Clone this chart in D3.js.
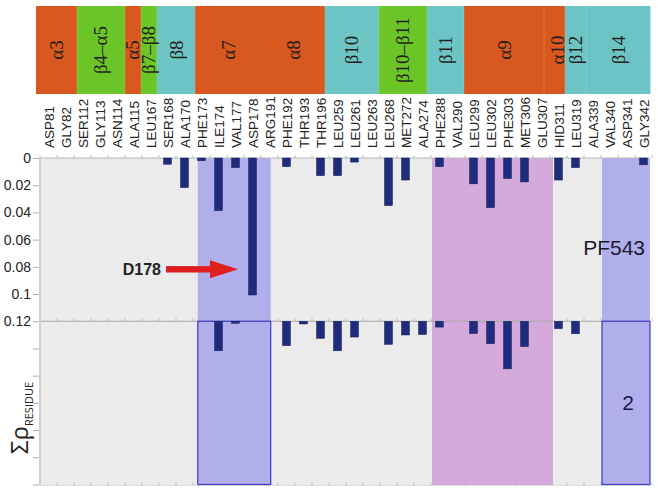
<!DOCTYPE html>
<html><head><meta charset="utf-8">
<script src="https://cdn.jsdelivr.net/npm/d3@7"></script>
<style>body{margin:0;background:#fff}svg{display:block}</style>
</head><body><svg id="c" width="658" height="493"></svg>
<script>
const residues = ["ASP81","GLY82","SER112","GLY113","ASN114","ALA115","LEU167","SER168","ALA170","PHE173","ILE174","VAL177","ASP178","ARG191","PHE192","THR193","THR196","LEU259","LEU261","LEU263","LEU268","MET272","ALA274","PHE288","VAL290","LEU299","LEU302","PHE303","MET306","GLU307","HID311","LEU319","ALA339","VAL340","ASP341","GLY342"];
// upper panel (PF543) values
const upperValues = [0,0,0,0,0,0,0,0.0046,0.0218,0.002,0.0387,0.0071,0.1007,0,0.0064,0,0.013,0.013,0.003,0,0.035,0.0162,0,0.0064,0,0.019,0.0365,0.0152,0.0176,0,0.0162,0.0071,0,0,0,0.005];
// lower panel (compound 2) values, measured downward from the 0.12 line
const lowerValues = [0,0,0,0,0,0,0,0,0,0,0.0217,0.0015,0,0,0.018,0.002,0.0126,0.0217,0.0116,0,0.017,0.0101,0.0097,0.0043,0,0.009,0.0165,0.035,0.0187,0,0.0055,0.0092,0,0,0,0];
const yTicks = [0,0.02,0.04,0.06,0.08,0.1,0.12,0.14,0.16,0.18,0.2,0.22,0.24];
const yTickLabels = ["0","0.02","0.04","0.06","0.08","0.1","0.12","","","","","",""];
// secondary structure band (edges in residue-index units)
const bandNames = ["α3","β4–α5","α5","β7–β8","β8","α7","α8","β10","β10–β11","β11","α9","α10","β12","β14"];
const bandTypes = ["a","l","a","l","b","a","a","b","l","b","a","a","b","b"];
const bandEdges = [-0.235,2.176,5.0,5.94,6.88,9.12,13.06,16.76,19.94,22.76,24.94,29.65,30.88,32.12,35.88];
// highlighted residue regions (index units)
const regionStart = [9.28,23.06,33.06];
const regionEnd = [13.57,30.18,35.88];
const regionKind = ["blue","pink","blue"];

const svg = d3.select("#c");
const L=40, R=652, T=158, B=484.5;
const x = d3.scaleBand().domain(residues).range([L,R]).padding(0);
const xi = d3.scaleLinear().domain([0,residues.length]).range([L,R]);
const y = d3.scaleLinear().domain([0,0.24]).range([T,B]);
const bandColor = {a:"#d8581f", l:"#6cc526", b:"#6cc4c4"};
const regFill = {blue:"#b1aeec", pink:"#d4aadc"};

// plot background
svg.append("rect").attr("x",L).attr("y",T).attr("width",650-L).attr("height",B-T+1).attr("fill","#ebebeb");

// upper regions
svg.selectAll(".ru").data(regionStart).enter().append("rect")
  .attr("x",(d)=>xi(d)).attr("y",T)
  .attr("width",(d,i)=>xi(regionEnd[i])-xi(d)).attr("height",y(0.12)-T)
  .attr("fill",(d,i)=>regFill[regionKind[i]]);
// lower regions
svg.selectAll(".rl").data(regionStart).enter().append("rect")
  .attr("x",(d)=>xi(d)).attr("y",y(0.12))
  .attr("width",(d,i)=>xi(regionEnd[i])-xi(d)).attr("height",B-y(0.12)+1)
  .attr("fill",(d,i)=>regFill[regionKind[i]]);

// axis lines
const g = svg.append("g");
g.append("line").attr("x1",L).attr("x2",650).attr("y1",T).attr("y2",T).attr("stroke","#b8b8b8");
g.append("line").attr("x1",L).attr("x2",650).attr("y1",y(0.12)).attr("y2",y(0.12)).attr("stroke","#a8a8a8");
g.append("line").attr("x1",L).attr("x2",650).attr("y1",B+1).attr("y2",B+1).attr("stroke","#e0e0e0");
// category ticks (upward)
[T, y(0.12), B+1].forEach(yy=>{
  g.selectAll(null).data(d3.range(residues.length+1)).enter().append("line")
   .attr("x1",d=>xi(d)).attr("x2",d=>xi(d)).attr("y1",yy).attr("y2",yy-3)
   .attr("stroke","#b0b0b0").attr("stroke-width",0.8);
});
// left axis
g.append("rect").attr("x",L-1).attr("y",T).attr("width",2).attr("height",B-T+1).attr("fill","#cfcfcf");
const yAxis = d3.axisLeft(y).tickValues(yTicks).tickSize(6).tickFormat((d,i)=>yTickLabels[i]);
const ya = svg.append("g").attr("transform",`translate(${L-1},0)`).call(yAxis);
ya.select(".domain").remove();
ya.selectAll(".tick line").attr("stroke","#b0b0b0");
ya.selectAll(".tick text").attr("font-family","Liberation Sans, Arial, sans-serif").attr("font-size",14).attr("fill","#222").attr("x",-8);

// lower region borders (blue)
const blueIdx = regionKind.map((k,i)=>k==="blue"?i:-1).filter(i=>i>=0);
svg.selectAll(".rb").data(blueIdx).enter().append("rect")
  .attr("x",i=>xi(regionStart[i])).attr("y",y(0.12))
  .attr("width",i=>xi(regionEnd[i])-xi(regionStart[i])).attr("height",B-y(0.12))
  .attr("fill","none").attr("stroke","#3d3acb").attr("stroke-width",1.2);

// bars
const bw = x.bandwidth()*0.47;
svg.selectAll(".bu").data(residues.map((r,i)=>({r,v:upperValues[i]})).filter(d=>d.v>0)).enter().append("rect")
  .attr("x",d=>x(d.r)+x.bandwidth()/2-bw/2).attr("y",y(0)).attr("width",bw).attr("height",d=>y(d.v)-y(0))
  .attr("fill","#1f2b7b").attr("stroke","#18225f").attr("stroke-width",0.5);
svg.selectAll(".bl").data(residues.map((r,i)=>({r,v:lowerValues[i]})).filter(d=>d.v>0)).enter().append("rect")
  .attr("x",d=>x(d.r)+x.bandwidth()/2-bw/2).attr("y",y(0.12)).attr("width",bw).attr("height",d=>y(0.12+d.v)-y(0.12))
  .attr("fill","#1f2b7b").attr("stroke","#18225f").attr("stroke-width",0.5);

// residue labels
svg.selectAll(".reslab").data(residues).enter().append("text")
  .attr("transform",d=>`translate(${x(d)+x.bandwidth()/2+0.5},148) rotate(-90)`)
  .attr("text-anchor","start").attr("dominant-baseline","central")
  .attr("font-family","Liberation Sans, Arial, sans-serif").attr("font-size",13.5).attr("fill","#222")
  .text(d=>d);

// secondary structure bands
const bt=6, bb=94;
svg.selectAll(".band").data(bandNames).enter().append("rect")
  .attr("x",(d,i)=>xi(bandEdges[i])).attr("y",bt)
  .attr("width",(d,i)=>xi(bandEdges[i+1])-xi(bandEdges[i])+0.5).attr("height",bb-bt)
  .attr("fill",(d,i)=>bandColor[bandTypes[i]]);
svg.selectAll(".bsep").data(bandEdges.slice(1,-1).filter((d,i)=>bandNames[i]!=="α7")).enter().append("line")
  .attr("x1",d=>xi(d)).attr("x2",d=>xi(d)).attr("y1",bt).attr("y2",bb)
  .attr("stroke","#ffffff").attr("stroke-opacity",0.15);
svg.selectAll(".blab").data(bandNames).enter().append("text")
  .attr("transform",(d,i)=>`translate(${(xi(bandEdges[i])+xi(bandEdges[i+1]))/2+(d==="α10"?3:0)},${(bt+bb)/2}) rotate(-90)`)
  .attr("text-anchor","middle").attr("dominant-baseline","central")
  .attr("font-family","Liberation Serif, Times New Roman, serif").attr("font-size",19).attr("fill","#231f1c")
  .text(d=>d);

// annotations
svg.append("text").attr("x",161).attr("y",275).attr("text-anchor","end")
  .attr("font-family","Liberation Sans, Arial, sans-serif").attr("font-weight","bold").attr("font-size",16).attr("fill","#222").text("D178");
const ay=269.3;
svg.append("rect").attr("x",166).attr("y",ay-3.2).attr("width",46).attr("height",6.4).attr("fill","#e01e1e");
svg.append("path").attr("d",`M210,${ay-9}L238,${ay}L210,${ay+9}Z`).attr("fill","#e01e1e");
svg.append("text").attr("x",645).attr("y",255).attr("text-anchor","end")
  .attr("font-family","Liberation Sans, Arial, sans-serif").attr("font-size",21).attr("fill","#1a1a2e").text("PF543");
svg.append("text").attr("x",628).attr("y",410).attr("text-anchor","middle")
  .attr("font-family","Liberation Sans, Arial, sans-serif").attr("font-size",21).attr("fill","#1a1a3e").text("2");

// y label
const yl = svg.append("text").attr("transform","translate(28,418) rotate(-90)").attr("text-anchor","middle")
  .attr("font-family","Open Sans, DejaVu Sans, sans-serif").attr("fill","#222");
yl.append("tspan").attr("font-size",24).text("Σρ");
yl.append("tspan").attr("font-size",11).attr("dy",5).text("RESIDUE");
</script></body></html>
